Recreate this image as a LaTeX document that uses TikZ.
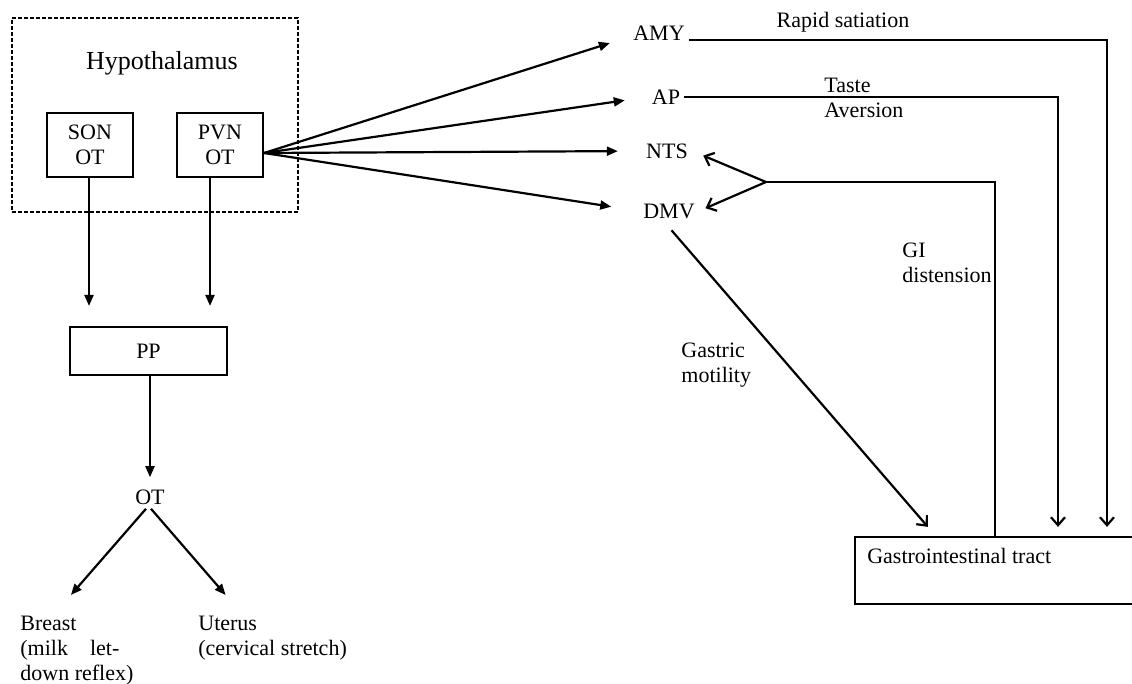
\documentclass[tikz,border=0pt]{standalone}
\usepackage{fontspec}
\setmainfont{Liberation Serif}
\usetikzlibrary{positioning, arrows.meta}

\begin{document}
\begin{tikzpicture}[
        x=0.5pt, y=-0.5pt,
        font=\fontsize{11}{12.5}\selectfont,
        base/.style={draw, line width=1.1pt, inner sep=0pt},
        hypobox/.style={base, dash pattern=on 2pt off 1pt, line width=0.9pt, minimum width=143pt, minimum height=97pt},
        nucleus/.style={base, align=center, minimum width=43pt, minimum height=32pt},
        ppbox/.style={base, minimum width=78.5pt, minimum height=24pt},
        gibox/.style={base, minimum width=142.5pt, minimum height=33.5pt},
        region/.style={inner sep=2pt},
        note/.style={align=left, inner sep=0pt},
        arr/.style={-{Triangle[length=5.5pt, width=4.5pt]}, line width=1.1pt},
        barb/.style={-{Straight Barb[length=4pt, width=7pt]}, line width=1.1pt},
        link/.style={line width=1.1pt}
    ]
    \useasboundingbox (0,0) rectangle (1132,684);

    \node[hypobox] (hypo) at (155,115) {};
    \node[font=\fontsize{13}{15}\selectfont] (hypolabel) at (162,63) {Hypothalamus};
    \node[nucleus] (son) at (90,145) {SON\\OT};
    \node[nucleus] (pvn) at (220,145) {PVN\\OT};
    \node[ppbox] (pp) at (148.5,351) {PP};
    \node[inner sep=2pt] (ot) at (150,497) {OT};
    \node[note, anchor=north west] (breast) at (20,616) {Breast\\(milk\quad let-\\down reflex)};
    \node[note, anchor=north west] (uterus) at (198,616) {Uterus\\(cervical stretch)};

    \node[region] (amy) at (659,33) {AMY};
    \node[region] (ap) at (666,97) {AP};
    \node[region] (nts) at (667,151) {NTS};
    \node[region] (dmv) at (669,211) {DMV};
    \coordinate (fork) at (766,182);

    \node[gibox, label={[anchor=north west, inner sep=0pt, xshift=6.5pt, yshift=-6pt]north west:Gastrointestinal tract}] (gi) at (997.5,570.5) {};

    \node (satlabel) at (843,22) {Rapid satiation};
    \node[note, anchor=north west] (tastelabel) at (824,78) {Taste\\Aversion};
    \node[note, anchor=north west] (distlabel) at (902,243) {GI\\distension};
    \node[note, anchor=north west] (motlabel) at (681,343) {Gastric\\motility};

    \draw[arr, shorten >=10pt] ([yshift=-4pt]pvn.east) -- ([yshift=-2pt]amy.west);
    \draw[arr, shorten >=11.5pt] ([yshift=-4pt]pvn.east) -- (ap.west);
    \draw[arr, shorten >=12pt] ([yshift=-4pt]pvn.east) -- (nts.west);
    \draw[arr, shorten >=14pt] ([yshift=-4pt]pvn.east) -- (dmv.west);

    \draw[arr, shorten >=10pt] ([xshift=-0.5pt]son.south) -- ([xshift=-0.5pt]son.south |- pp.north);
    \draw[arr, shorten >=10pt] ([xshift=-5pt]pvn.south) -- ([xshift=-5pt]pvn.south |- pp.north);
    \draw[arr, shorten >=4pt] (pp.south -| ot) -- (ot.north);
    \draw[arr] ([xshift=-2pt]ot.south) -- ([xshift=-3pt, yshift=10.5pt]breast.north);
    \draw[arr] ([xshift=0.5pt]ot.south) -- ([xshift=-23.5pt, yshift=10.5pt]uterus.north);

    \draw[barb, shorten >=4.5pt] (amy.base east) -| ([xshift=54.75pt]gi.north);
    \draw[barb, shorten >=4.5pt] (ap.east) -| ([xshift=30.25pt]gi.north);
    \draw[link] ([xshift=-1.25pt]gi.north) |- (fork);
    \draw[barb, shorten >=6pt] (fork) -- (nts.east);
    \draw[barb, shorten >=3.5pt] (fork) -- (dmv.east);
    \draw[barb, shorten <=5pt] ([xshift=-2pt]dmv.south) -- ([xshift=37pt, yshift=4.5pt]gi.north west);
\end{tikzpicture}
\end{document}
